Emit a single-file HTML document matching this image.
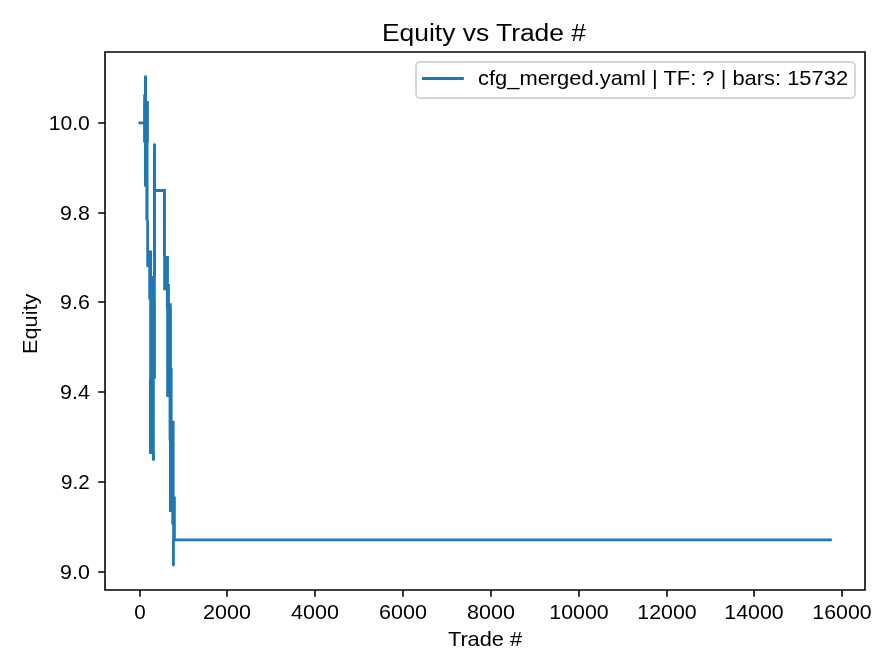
<!DOCTYPE html>
<html><head><meta charset="utf-8"><title>Equity vs Trade #</title>
<style>html,body{margin:0;padding:0;background:#fff;width:896px;height:672px;overflow:hidden}svg{display:block;will-change:transform}text{fill:#000}</style>
</head><body>
<svg width="896" height="672" viewBox="0 0 896 672"><rect x="0" y="0" width="896" height="672" fill="#ffffff"/>
<path d="M144.00 76.80H147.00V94.40H144.00ZM143.20 94.40H147.00V101.00H143.20ZM143.10 101.00H148.90V142.40H143.10ZM144.00 142.40H148.50V186.60H144.00ZM145.40 186.60H148.50V220.60H145.40ZM146.30 220.60H149.00V250.50H146.30ZM146.30 250.50H152.10V267.00H146.30ZM148.30 267.00H152.10V276.00H148.30ZM148.30 276.00H155.80V299.60H148.30ZM149.20 299.60H155.90V378.70H149.20ZM149.00 378.70H154.80V453.90H149.00ZM151.90 453.90H155.00V459.50H151.90ZM153.00 144.80H156.00V276.00H153.00ZM153.00 188.90H165.90V191.90H153.00ZM163.00 188.90H165.90V255.90H163.00ZM163.20 255.90H168.90V284.00H163.20ZM163.20 284.00H169.90V290.30H163.20ZM165.90 290.30H169.90V303.20H165.90ZM165.90 303.20H171.70V308.00H165.90ZM166.20 308.00H171.90V368.00H166.20ZM166.20 368.00H172.60V397.00H166.20ZM168.60 397.00H172.60V420.70H168.60ZM168.60 420.70H174.60V440.50H168.60ZM169.00 440.50H174.60V496.50H169.00ZM169.00 496.50H175.80V512.00H169.00ZM171.30 512.00H175.80V524.60H171.30ZM172.20 524.60H175.80V539.60H172.20ZM172.00 539.60H174.80V565.00H172.00Z" fill="#1f77b4"/>
<circle cx="145.5" cy="76.8" r="1.46" fill="#1f77b4"/>
<circle cx="154.5" cy="144.8" r="1.46" fill="#1f77b4"/>
<circle cx="153.45" cy="459.5" r="1.46" fill="#1f77b4"/>
<circle cx="173.4" cy="565.0" r="1.46" fill="#1f77b4"/>
<path d="M140 122.9H144 M175 539.85H830.3" stroke="#1f77b4" stroke-width="2.917" stroke-linecap="square" fill="none"/>
<path d="M105.0 52.0H865.0V590.0H105.0Z" fill="none" stroke="#000" stroke-width="1.556" stroke-linejoin="miter" stroke-linecap="square"/>
<path d="M140 590.0V596.80M227 590.0V596.80M315 590.0V596.80M403 590.0V596.80M491 590.0V596.80M579 590.0V596.80M667 590.0V596.80M754 590.0V596.80M842 590.0V596.80M105.0 572H98.20M105.0 482H98.20M105.0 392H98.20M105.0 302H98.20M105.0 213H98.20M105.0 123H98.20" stroke="#000" stroke-width="1.556" fill="none"/>
<text x="140" y="619.2" font-size="20.6" text-anchor="middle" font-family="Liberation Sans, sans-serif">0</text>
<text x="227" y="619.2" font-size="20.6" text-anchor="middle" textLength="47.9" lengthAdjust="spacingAndGlyphs" font-family="Liberation Sans, sans-serif">2000</text>
<text x="315" y="619.2" font-size="20.6" text-anchor="middle" textLength="47.9" lengthAdjust="spacingAndGlyphs" font-family="Liberation Sans, sans-serif">4000</text>
<text x="403" y="619.2" font-size="20.6" text-anchor="middle" textLength="47.9" lengthAdjust="spacingAndGlyphs" font-family="Liberation Sans, sans-serif">6000</text>
<text x="491" y="619.2" font-size="20.6" text-anchor="middle" textLength="47.9" lengthAdjust="spacingAndGlyphs" font-family="Liberation Sans, sans-serif">8000</text>
<text x="579" y="619.2" font-size="20.6" text-anchor="middle" textLength="59.3" lengthAdjust="spacingAndGlyphs" font-family="Liberation Sans, sans-serif">10000</text>
<text x="667" y="619.2" font-size="20.6" text-anchor="middle" textLength="59.3" lengthAdjust="spacingAndGlyphs" font-family="Liberation Sans, sans-serif">12000</text>
<text x="754" y="619.2" font-size="20.6" text-anchor="middle" textLength="59.3" lengthAdjust="spacingAndGlyphs" font-family="Liberation Sans, sans-serif">14000</text>
<text x="842" y="619.2" font-size="20.6" text-anchor="middle" textLength="59.3" lengthAdjust="spacingAndGlyphs" font-family="Liberation Sans, sans-serif">16000</text>
<text x="89.8" y="579.00" font-size="20.6" text-anchor="end" textLength="29.7" lengthAdjust="spacingAndGlyphs" font-family="Liberation Sans, sans-serif">9.0</text>
<text x="89.8" y="489.00" font-size="20.6" text-anchor="end" textLength="28.7" lengthAdjust="spacingAndGlyphs" font-family="Liberation Sans, sans-serif">9.2</text>
<text x="89.8" y="399.00" font-size="20.6" text-anchor="end" textLength="29.7" lengthAdjust="spacingAndGlyphs" font-family="Liberation Sans, sans-serif">9.4</text>
<text x="89.8" y="309.00" font-size="20.6" text-anchor="end" textLength="29.7" lengthAdjust="spacingAndGlyphs" font-family="Liberation Sans, sans-serif">9.6</text>
<text x="89.8" y="220.00" font-size="20.6" text-anchor="end" textLength="29.7" lengthAdjust="spacingAndGlyphs" font-family="Liberation Sans, sans-serif">9.8</text>
<text x="89.8" y="130.00" font-size="20.6" text-anchor="end" textLength="41.1" lengthAdjust="spacingAndGlyphs" font-family="Liberation Sans, sans-serif">10.0</text>
<text x="485" y="646.2" font-size="20.6" text-anchor="middle" textLength="74.2" lengthAdjust="spacingAndGlyphs" font-family="Liberation Sans, sans-serif">Trade #</text>
<text transform="translate(36.9 323.8) rotate(-90)" x="0" y="0" font-size="20.6" text-anchor="middle" textLength="60.4" lengthAdjust="spacingAndGlyphs" font-family="Liberation Sans, sans-serif">Equity</text>
<text x="484" y="41.1" font-size="24.72" text-anchor="middle" textLength="204.1" lengthAdjust="spacingAndGlyphs" font-family="Liberation Sans, sans-serif">Equity vs Trade #</text>
<rect x="416" y="62" width="439" height="36" rx="3.9" ry="3.9" fill="#fff" fill-opacity="0.8" stroke="#d6d6d6" stroke-width="1.9"/>
<path d="M423.4 78.5H462.4" stroke="#1f77b4" stroke-width="2.917" stroke-linecap="square"/>
<text x="478" y="84.8" font-size="20.6" textLength="370.1" lengthAdjust="spacingAndGlyphs" font-family="Liberation Sans, sans-serif">cfg_merged.yaml | TF: ? | bars: 15732</text></svg>
</body></html>
